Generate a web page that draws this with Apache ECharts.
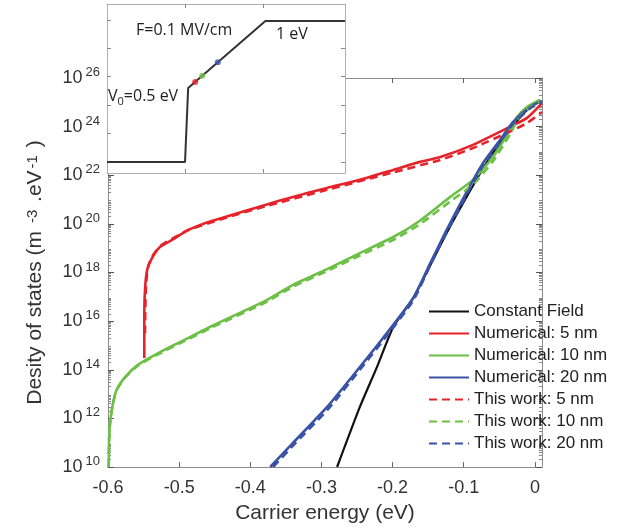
<!DOCTYPE html>
<html>
<head>
<meta charset="utf-8">
<script src="https://cdn.jsdelivr.net/npm/echarts@6/dist/echarts.min.js"></script>
<style>html, body { margin: 0; background: #fff; }</style>
</head>
<body>
<div id="container" style="width: 624px; height: 530px"></div>
<script type="text/javascript">
// carrier energy (eV) and log10 of the density of states
var constE   = [-0.278, -0.246, -0.222, -0.199, -0.171, -0.124, -0.096, -0.063, -0.035, -0.014, 0.007];
var constLog = [10, 12.47, 14.11, 15.76, 16.95, 19.63, 21.11, 22.75, 23.86, 24.60, 25.10];

var num5E   = [-0.549, -0.549, -0.548, -0.545, -0.538, -0.527, -0.510, -0.487, -0.463, -0.440, -0.417, -0.379, -0.340, -0.292, -0.246, -0.199, -0.162, -0.133, -0.087, -0.035, -0.011, 0.010];
var num5Log = [14.48, 16.05, 17.28, 18.10, 18.60, 19.05, 19.34, 19.75, 20.04, 20.24, 20.45, 20.78, 21.11, 21.48, 21.81, 22.22, 22.55, 22.75, 23.25, 23.99, 24.36, 24.97];

var num10E   = [-0.599, -0.598, -0.594, -0.588, -0.576, -0.558, -0.534, -0.510, -0.487, -0.454, -0.379, -0.340, -0.292, -0.246, -0.199, -0.162, -0.119, -0.087, -0.059, -0.035, -0.025, -0.011, 0.007];
var num10Log = [10, 11.52, 12.47, 13.17, 13.70, 14.20, 14.61, 14.98, 15.31, 15.80, 16.83, 17.49, 18.14, 18.80, 19.46, 20.12, 21.11, 21.81, 22.75, 23.86, 24.40, 24.81, 25.10];

var num20E   = [-0.372, -0.340, -0.292, -0.246, -0.208, -0.171, -0.147, -0.124, -0.096, -0.073, -0.049, -0.031, -0.007, 0.010];
var num20Log = [10, 10.99, 12.47, 14.11, 15.51, 16.95, 18.39, 19.75, 21.31, 22.50, 23.45, 24.19, 24.81, 25.06];

var work5E   = [-0.548, -0.547, -0.544, -0.537, -0.526, -0.509, -0.487, -0.440, -0.379, -0.292, -0.199, -0.133, -0.087, -0.035, -0.011, 0.010];
var work5Log = [15.5, 17.2, 18.2, 18.7, 19.1, 19.4, 19.75, 20.2, 20.72, 21.4, 22.12, 22.63, 23.12, 23.8, 24.15, 24.6];

var work10E   = [-0.599, -0.598, -0.594, -0.588, -0.576, -0.558, -0.534, -0.487, -0.454, -0.379, -0.340, -0.292, -0.246, -0.199, -0.162, -0.119, -0.087, -0.059, -0.035, -0.025, -0.011, 0.007];
var work10Log = [10, 11.5, 12.45, 13.15, 13.68, 14.17, 14.57, 15.26, 15.74, 16.76, 17.42, 18.06, 18.7, 19.34, 19.98, 20.92, 21.62, 22.58, 23.68, 24.25, 24.7, 25.02];

var work20E   = [-0.368, -0.336, -0.290, -0.246, -0.208, -0.171, -0.147, -0.124, -0.096, -0.073, -0.049, -0.031, -0.007, 0.010];
var work20Log = [10, 11.0, 12.4, 14.0, 15.4, 16.85, 18.3, 19.65, 21.2, 22.4, 23.35, 24.1, 24.75, 25.0];

var xTicks = [-0.6, -0.5, -0.4, -0.3, -0.2, -0.1, 0];

// inset: band profile (arbitrary units) and the three marked widths
var insetX = [0, 10.0, 10.4, 20.3, 30.5];
var insetY = [0.39, 0.39, 2.99, 5.35, 5.35];
var insetDotX = [11.3, 12.2, 14.2];
var insetDotY = [3.2, 3.42, 3.9];
var insetYTicks = [0.39, 1.39, 2.39, 3.39, 4.39, 5.39];

var RED = '#e5232b', GREEN = '#6dbf46', BLUE = '#3a53a6', BLACK = '#111111';
var FONT = '"Liberation Sans", Arial, sans-serif';
var INSET_FONT = '"Open Sans", sans-serif';

function zip(a, b) {
    var out = [];
    for (var i = 0; i < a.length; i++) out.push([a[i], b[i]]);
    return out;
}

// minor ticks at 2..9 x 10^n
var yMinor = [];
for (var n = 10; n < 26; n++) {
    for (var k = 2; k <= 9; k++) yMinor.push(n + Math.log10(k));
}

function lineSeries(name, e, l, color, dashed, width) {
    return {
        name: name,
        type: 'line',
        xAxisIndex: 0,
        yAxisIndex: 0,
        data: zip(e, l),
        symbol: 'none',
        smooth: 0.2,
        clip: true,
        lineStyle: { color: color, width: width || 2.6, type: dashed ? [8, 5] : 'solid' },
        itemStyle: { color: color },
        z: dashed ? 4 : 3
    };
}

var boxLine = { onZero: false, lineStyle: { color: '#8c8c8c', width: 1 } };
var insetLine = { onZero: false, lineStyle: { color: '#b0b0b0', width: 1 } };
var noLine = { show: false, onZero: false };

var option = {
    backgroundColor: '#fff',
    animation: false,
    textStyle: { fontFamily: FONT },
    grid: [
        { left: 108, top: 78, width: 434, height: 389 },
        { left: 107, top: 4, width: 238, height: 169, show: true, backgroundColor: '#fff', borderWidth: 0, z: 5 }
    ],
    legend: {
        data: ['Constant Field', 'Numerical: 5 nm', 'Numerical: 10 nm', 'Numerical: 20 nm',
               'This work: 5 nm', 'This work: 10 nm', 'This work: 20 nm'],
        orient: 'vertical',
        left: 423,
        top: 298,
        itemWidth: 40,
        itemHeight: 12,
        itemGap: 5,
        itemStyle: { opacity: 0 },
        textStyle: { fontFamily: FONT, fontSize: 17, color: '#222' }
    },
    xAxis: [
        {
            gridIndex: 0, type: 'value', min: -0.6, max: 0.01, position: 'bottom',
            axisLine: boxLine,
            axisTick: { inside: true, length: 5, customValues: xTicks, lineStyle: { color: '#666' } },
            axisLabel: { customValues: xTicks, margin: 12, fontSize: 18, color: '#333', fontFamily: FONT,
                formatter: function (v) { return v === 0 ? '0' : v.toFixed(1); } },
            splitLine: { show: false },
            name: 'Carrier energy (eV)', nameLocation: 'middle', nameGap: 36,
            nameTextStyle: { fontSize: 21, color: '#333', fontFamily: FONT }
        },
        {
            gridIndex: 0, type: 'value', min: -0.6, max: 0.01, position: 'top',
            axisLine: boxLine,
            axisTick: { inside: true, length: 5, customValues: xTicks, lineStyle: { color: '#666' } },
            axisLabel: { show: false }, splitLine: { show: false }
        },
        {
            gridIndex: 1, type: 'value', min: 0, max: 30.5, position: 'bottom', z: 6,
            axisLine: insetLine,
            axisTick: { inside: true, length: 4, customValues: [10, 20], lineStyle: { color: '#888' } },
            axisLabel: { show: false }, splitLine: { show: false }
        },
        {
            gridIndex: 1, type: 'value', min: 0, max: 30.5, position: 'top', z: 6,
            axisLine: insetLine,
            axisTick: { inside: true, length: 4, customValues: [10, 20], lineStyle: { color: '#888' } },
            axisLabel: { show: false }, splitLine: { show: false }
        }
    ],
    yAxis: [
        {
            gridIndex: 0, type: 'value', min: 10, max: 26, interval: 2, position: 'left',
            axisLine: boxLine,
            axisTick: { inside: true, length: 6, lineStyle: { color: '#555' } },
            axisLabel: {
                margin: 8, color: '#333',
                formatter: function (v) { return '{b|10}{e|' + v + '}'; },
                rich: {
                    b: { fontSize: 18, lineHeight: 24, fontFamily: FONT, color: '#333' },
                    e: { fontSize: 13, lineHeight: 13, verticalAlign: 'top', padding: [0, 0, 0, 3], fontFamily: FONT, color: '#333' }
                }
            },
            splitLine: { show: false },
            name: 'Desity of states (m {s|-3} .eV{s|-1} )',
            nameLocation: 'middle', nameGap: 62,
            nameTextStyle: {
                fontSize: 21, color: '#333', fontFamily: FONT,
                rich: { s: { fontSize: 15, verticalAlign: 'top', lineHeight: 15, padding: [0, 2, 0, 2], fontFamily: FONT, color: '#333' } }
            }
        },
        {
            gridIndex: 0, type: 'value', min: 10, max: 26, interval: 2, position: 'right',
            axisLine: boxLine,
            axisTick: { inside: true, length: 6, lineStyle: { color: '#555' } },
            axisLabel: { show: false }, splitLine: { show: false }
        },
        {
            gridIndex: 0, type: 'value', min: 10, max: 26, position: 'left',
            axisLine: noLine,
            axisTick: { inside: true, length: 3, customValues: yMinor, lineStyle: { color: '#888' } },
            axisLabel: { show: false }, splitLine: { show: false }
        },
        {
            gridIndex: 0, type: 'value', min: 10, max: 26, position: 'right',
            axisLine: noLine,
            axisTick: { inside: true, length: 3, customValues: yMinor, lineStyle: { color: '#888' } },
            axisLabel: { show: false }, splitLine: { show: false }
        },
        {
            gridIndex: 1, type: 'value', min: 0, max: 5.95, position: 'left', z: 6,
            axisLine: insetLine,
            axisTick: { inside: true, length: 4, customValues: insetYTicks, lineStyle: { color: '#888' } },
            axisLabel: { show: false }, splitLine: { show: false }
        },
        {
            gridIndex: 1, type: 'value', min: 0, max: 5.95, position: 'right', z: 6,
            axisLine: insetLine,
            axisTick: { inside: true, length: 4, customValues: insetYTicks, lineStyle: { color: '#888' } },
            axisLabel: { show: false }, splitLine: { show: false }
        }
    ],
    series: [
        lineSeries('Constant Field', constE, constLog, BLACK, false, 2.2),
        lineSeries('Numerical: 5 nm', num5E, num5Log, RED, false),
        lineSeries('Numerical: 10 nm', num10E, num10Log, GREEN, false),
        lineSeries('Numerical: 20 nm', num20E, num20Log, BLUE, false),
        lineSeries('This work: 5 nm', work5E, work5Log, RED, true),
        lineSeries('This work: 10 nm', work10E, work10Log, GREEN, true),
        lineSeries('This work: 20 nm', work20E, work20Log, BLUE, true),
        {
            name: 'band', type: 'line', xAxisIndex: 2, yAxisIndex: 4,
            data: zip(insetX, insetY), symbol: 'none', z: 7,
            lineStyle: { color: '#333', width: 2 }
        },
        {
            name: 'widths', type: 'scatter', xAxisIndex: 2, yAxisIndex: 4,
            data: zip(insetDotX, insetDotY), symbolSize: 6, z: 8,
            itemStyle: { color: function (p) { return [RED, GREEN, BLUE][p.dataIndex]; } }
        }
    ],
    graphic: [
        { type: 'text', left: 136, top: 22, z: 20,
          style: { text: 'F=0.1 MV/cm', fontSize: 16, fontFamily: INSET_FONT, fill: '#222' } },
        { type: 'text', left: 276, top: 26, z: 20,
          style: { text: '1 eV', fontSize: 16, fontFamily: INSET_FONT, fill: '#222' } },
        { type: 'text', left: 108, top: 88, z: 20,
          style: {
              text: '{a|V}{s|0}{a|=0.5 eV}', fill: '#222',
              rich: {
                  a: { fontSize: 16, lineHeight: 22, fontFamily: INSET_FONT, fill: '#222' },
                  s: { fontSize: 11, lineHeight: 11, verticalAlign: 'bottom', fontFamily: INSET_FONT, fill: '#222' }
              }
          } }
    ]
};

var myChart = echarts.init(document.getElementById('container'));
myChart.setOption(option);
</script>
</body>
</html>
